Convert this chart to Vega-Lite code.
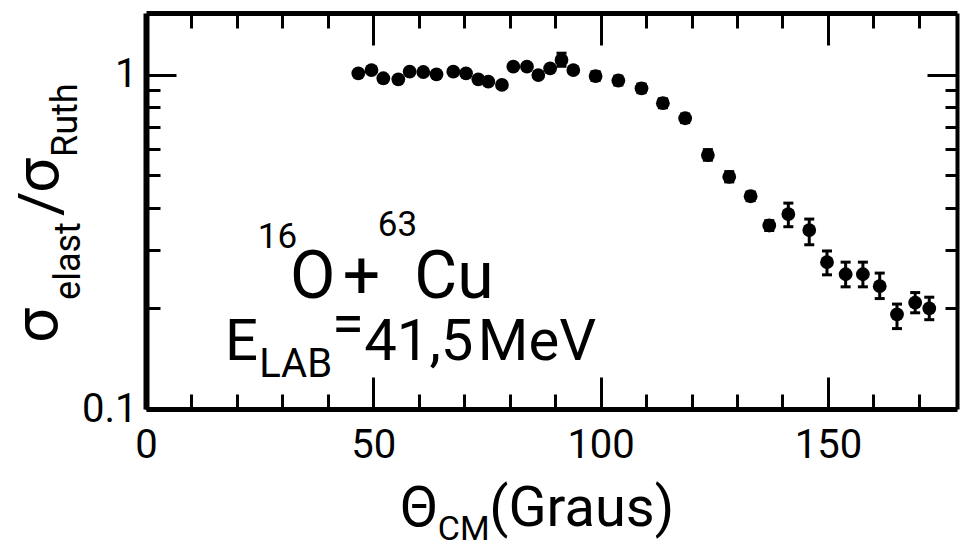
{
  "$schema": "https://vega.github.io/schema/vega-lite/v6.json",
  "width": 811,
  "height": 396,
  "autosize": {"type": "none"},
  "padding": {"left": 146, "top": 13, "right": 3, "bottom": 139},
  "background": "white",
  "config": {"view": {"stroke": null}, "font": "Roboto"},
  "datasets": {
    "points": [
      {"theta": 46.7, "ratio": 1.010, "lo": null, "hi": null},
      {"theta": 49.6, "ratio": 1.033, "lo": null, "hi": null},
      {"theta": 52.2, "ratio": 0.976, "lo": null, "hi": null},
      {"theta": 55.5, "ratio": 0.969, "lo": null, "hi": null},
      {"theta": 58.0, "ratio": 1.021, "lo": null, "hi": null},
      {"theta": 61.0, "ratio": 1.019, "lo": null, "hi": null},
      {"theta": 63.9, "ratio": 1.003, "lo": null, "hi": null},
      {"theta": 67.6, "ratio": 1.021, "lo": null, "hi": null},
      {"theta": 70.4, "ratio": 1.010, "lo": null, "hi": null},
      {"theta": 73.1, "ratio": 0.969, "lo": null, "hi": null},
      {"theta": 75.3, "ratio": 0.953, "lo": null, "hi": null},
      {"theta": 78.3, "ratio": 0.932, "lo": null, "hi": null},
      {"theta": 80.8, "ratio": 1.057, "lo": null, "hi": null},
      {"theta": 83.8, "ratio": 1.057, "lo": null, "hi": null},
      {"theta": 86.3, "ratio": 0.998, "lo": null, "hi": null},
      {"theta": 88.9, "ratio": 1.045, "lo": null, "hi": null},
      {"theta": 91.4, "ratio": 1.107, "lo": 1.06, "hi": 1.16},
      {"theta": 94.0, "ratio": 1.033, "lo": null, "hi": null},
      {"theta": 98.9, "ratio": 0.991, "lo": 0.961, "hi": 1.021},
      {"theta": 103.9, "ratio": 0.961, "lo": 0.932, "hi": 0.990},
      {"theta": 109.0, "ratio": 0.911, "lo": 0.884, "hi": 0.938},
      {"theta": 113.7, "ratio": 0.822, "lo": 0.797, "hi": 0.847},
      {"theta": 118.6, "ratio": 0.741, "lo": 0.719, "hi": 0.763},
      {"theta": 123.6, "ratio": 0.575, "lo": 0.555, "hi": 0.597},
      {"theta": 128.3, "ratio": 0.495, "lo": 0.478, "hi": 0.513},
      {"theta": 133.0, "ratio": 0.433, "lo": 0.420, "hi": 0.446},
      {"theta": 137.1, "ratio": 0.354, "lo": 0.342, "hi": 0.366},
      {"theta": 141.3, "ratio": 0.383, "lo": 0.351, "hi": 0.413},
      {"theta": 145.9, "ratio": 0.343, "lo": 0.310, "hi": 0.370},
      {"theta": 149.8, "ratio": 0.275, "lo": 0.252, "hi": 0.297},
      {"theta": 153.9, "ratio": 0.253, "lo": 0.232, "hi": 0.275},
      {"theta": 157.7, "ratio": 0.253, "lo": 0.232, "hi": 0.275},
      {"theta": 161.4, "ratio": 0.233, "lo": 0.214, "hi": 0.255},
      {"theta": 165.2, "ratio": 0.192, "lo": 0.174, "hi": 0.206},
      {"theta": 169.2, "ratio": 0.208, "lo": 0.194, "hi": 0.223},
      {"theta": 172.3, "ratio": 0.200, "lo": 0.185, "hi": 0.216}
    ],
    "reactionLine": [
      {"label": "O", "theta": 31.7, "ratio": 0.215},
      {"label": "+", "theta": 43.3, "ratio": 0.215},
      {"label": "Cu", "theta": 59.0, "ratio": 0.215}
    ],
    "energyLine": [
      {"label": "E", "theta": 17.4, "ratio": 0.140},
      {"label": "=", "theta": 40.9, "ratio": 0.1576},
      {"label": "41,5", "theta": 48.0, "ratio": 0.140},
      {"label": "MeV", "theta": 73.0, "ratio": 0.140}
    ],
    "reactionMass": [
      {"label": "16", "theta": 24.6, "ratio": 0.303},
      {"label": "63", "theta": 51.0, "ratio": 0.329}
    ],
    "energySub": [
      {"label": "LAB", "theta": 24.9, "ratio": 0.1247}
    ],
    "xTitleLarge": [
      {"label": "Θ", "theta": 55.9, "ratio": 0.0447},
      {"label": "(Graus)", "theta": 75.5, "ratio": 0.0447}
    ],
    "xTitleSub": [
      {"label": "CM", "theta": 64.2, "ratio": 0.0406}
    ],
    "yTitleSigma": [
      {"label": "σ", "theta": -19.6, "ratio": 0.1576},
      {"label": "σ", "theta": -19.4, "ratio": 0.4429}
    ],
    "yTitleSlash": [
      {"label": "/", "theta": -18.9, "ratio": 0.3780}
    ],
    "yTitleSub": [
      {"label": "elast", "theta": -14.5, "ratio": 0.2120},
      {"label": "Ruth", "theta": -15.2, "ratio": 0.5674}
    ]
  },
  "resolve": {"axis": {"x": "independent", "y": "independent"}},
  "layer": [
    {
      "data": {"name": "points"},
      "mark": {"type": "circle", "size": 190, "color": "black", "opacity": 1},
      "encoding": {
        "x": {
          "field": "theta", "type": "quantitative",
          "scale": {"domain": [0, 178.4], "nice": false, "zero": false},
          "axis": {
            "orient": "bottom", "values": [0, 50, 100, 150], "format": "d",
            "tickSize": -32, "tickWidth": 3, "tickColor": "black",
            "domain": true, "domainWidth": 5, "domainColor": "black",
            "labelFont": "Roboto", "labelFontSize": 40, "labelColor": "black",
            "labelPadding": 48, "labelFlush": false, "labelOverlap": false,
            "grid": false, "title": null
          }
        },
        "y": {
          "field": "ratio", "type": "quantitative",
          "scale": {"type": "log", "domain": [0.1, 1.53], "nice": false},
          "axis": {
            "orient": "left", "values": [0.1, 1], "format": "~g",
            "tickSize": -30, "tickWidth": 3, "tickColor": "black",
            "domain": true, "domainWidth": 6, "domainColor": "black",
            "labelFont": "Roboto", "labelFontSize": 40, "labelColor": "black",
            "labelPadding": 39, "labelFlush": false, "labelOverlap": false,
            "grid": false, "title": null
          }
        }
      }
    },
    {
      "data": {"name": "points"},
      "transform": [{"filter": "isValid(datum.lo)"}],
      "mark": {"type": "rule", "color": "black", "strokeWidth": 3},
      "encoding": {
        "x": {"field": "theta", "type": "quantitative", "axis": null},
        "y": {"field": "lo", "type": "quantitative", "axis": null},
        "y2": {"field": "hi"}
      }
    },
    {
      "data": {"name": "points"},
      "transform": [{"filter": "isValid(datum.lo)"}],
      "mark": {"type": "tick", "color": "black", "opacity": 1, "size": 10, "thickness": 3, "orient": "horizontal"},
      "encoding": {
        "x": {"field": "theta", "type": "quantitative", "axis": null},
        "y": {"field": "lo", "type": "quantitative", "axis": null}
      }
    },
    {
      "data": {"name": "points"},
      "transform": [{"filter": "isValid(datum.hi)"}],
      "mark": {"type": "tick", "color": "black", "opacity": 1, "size": 10, "thickness": 3, "orient": "horizontal"},
      "encoding": {
        "x": {"field": "theta", "type": "quantitative", "axis": null},
        "y": {"field": "hi", "type": "quantitative", "axis": null}
      }
    },
    {
      "data": {"name": "reactionLine"},
      "mark": {"type": "text", "align": "left", "baseline": "alphabetic", "font": "Roboto", "fontSize": 66, "color": "black"},
      "encoding": {
        "x": {
          "field": "theta", "type": "quantitative",
          "axis": {
            "orient": "bottom", "values": [10, 20, 30, 40, 60, 70, 80, 90, 110, 120, 130, 140, 160, 170],
            "tickSize": -15, "tickWidth": 3, "tickColor": "black",
            "domain": false, "labels": false, "grid": false, "title": null
          }
        },
        "y": {
          "field": "ratio", "type": "quantitative",
          "axis": {
            "orient": "left", "values": [0.2, 0.3, 0.4, 0.5, 0.6, 0.7, 0.8, 0.9],
            "tickSize": -14, "tickWidth": 3, "tickColor": "black",
            "domain": false, "labels": false, "grid": false, "title": null
          }
        },
        "text": {"field": "label"}
      }
    },
    {
      "data": {"name": "reactionMass"},
      "mark": {"type": "text", "align": "left", "baseline": "alphabetic", "font": "Roboto", "fontSize": 35, "color": "black"},
      "encoding": {
        "x": {
          "field": "theta", "type": "quantitative",
          "axis": {
            "orient": "top", "values": [50, 100, 150],
            "tickSize": -32, "tickWidth": 3, "tickColor": "black",
            "domain": true, "domainWidth": 5, "domainColor": "black",
            "labels": false, "grid": false, "title": null
          }
        },
        "y": {
          "field": "ratio", "type": "quantitative",
          "axis": {
            "orient": "right", "values": [1],
            "tickSize": -30, "tickWidth": 3, "tickColor": "black",
            "domain": true, "domainWidth": 4, "domainColor": "black",
            "labels": false, "grid": false, "title": null
          }
        },
        "text": {"field": "label"}
      }
    },
    {
      "data": {"name": "energySub"},
      "mark": {"type": "text", "align": "left", "baseline": "alphabetic", "font": "Roboto", "fontSize": 40, "color": "black"},
      "encoding": {
        "x": {
          "field": "theta", "type": "quantitative",
          "axis": {
            "orient": "top", "values": [10, 20, 30, 40, 60, 70, 80, 90, 110, 120, 130, 140, 160, 170],
            "tickSize": -15, "tickWidth": 3, "tickColor": "black",
            "domain": false, "labels": false, "grid": false, "title": null
          }
        },
        "y": {
          "field": "ratio", "type": "quantitative",
          "axis": {
            "orient": "right", "values": [0.2, 0.3, 0.4, 0.5, 0.6, 0.7, 0.8, 0.9],
            "tickSize": -12, "tickWidth": 3, "tickColor": "black",
            "domain": false, "labels": false, "grid": false, "title": null
          }
        },
        "text": {"field": "label"}
      }
    },
    {
      "data": {"name": "energyLine"},
      "mark": {"type": "text", "align": "left", "baseline": "alphabetic", "font": "Roboto", "fontSize": 58, "color": "black"},
      "encoding": {
        "x": {"field": "theta", "type": "quantitative", "axis": null},
        "y": {"field": "ratio", "type": "quantitative", "axis": null},
        "text": {"field": "label"}
      }
    },
    {
      "data": {"name": "xTitleLarge"},
      "mark": {"type": "text", "align": "left", "baseline": "alphabetic", "font": "Roboto", "fontSize": 56, "color": "black"},
      "encoding": {
        "x": {"field": "theta", "type": "quantitative", "axis": null},
        "y": {"field": "ratio", "type": "quantitative", "axis": null},
        "text": {"field": "label"}
      }
    },
    {
      "data": {"name": "xTitleSub"},
      "mark": {"type": "text", "align": "left", "baseline": "alphabetic", "font": "Roboto", "fontSize": 34, "color": "black"},
      "encoding": {
        "x": {"field": "theta", "type": "quantitative", "axis": null},
        "y": {"field": "ratio", "type": "quantitative", "axis": null},
        "text": {"field": "label"}
      }
    },
    {
      "data": {"name": "yTitleSigma"},
      "mark": {"type": "text", "align": "left", "baseline": "alphabetic", "angle": 270, "font": "Roboto", "fontSize": 62, "color": "black"},
      "encoding": {
        "x": {"field": "theta", "type": "quantitative", "axis": null},
        "y": {"field": "ratio", "type": "quantitative", "axis": null},
        "text": {"field": "label"}
      }
    },
    {
      "data": {"name": "yTitleSlash"},
      "mark": {"type": "text", "align": "left", "baseline": "alphabetic", "angle": 270, "font": "Roboto", "fontSize": 60, "color": "black"},
      "encoding": {
        "x": {"field": "theta", "type": "quantitative", "axis": null},
        "y": {"field": "ratio", "type": "quantitative", "axis": null},
        "text": {"field": "label"}
      }
    },
    {
      "data": {"name": "yTitleSub"},
      "mark": {"type": "text", "align": "left", "baseline": "alphabetic", "angle": 270, "font": "Roboto", "fontSize": 36, "color": "black"},
      "encoding": {
        "x": {"field": "theta", "type": "quantitative", "axis": null},
        "y": {"field": "ratio", "type": "quantitative", "axis": null},
        "text": {"field": "label"}
      }
    }
  ]
}
